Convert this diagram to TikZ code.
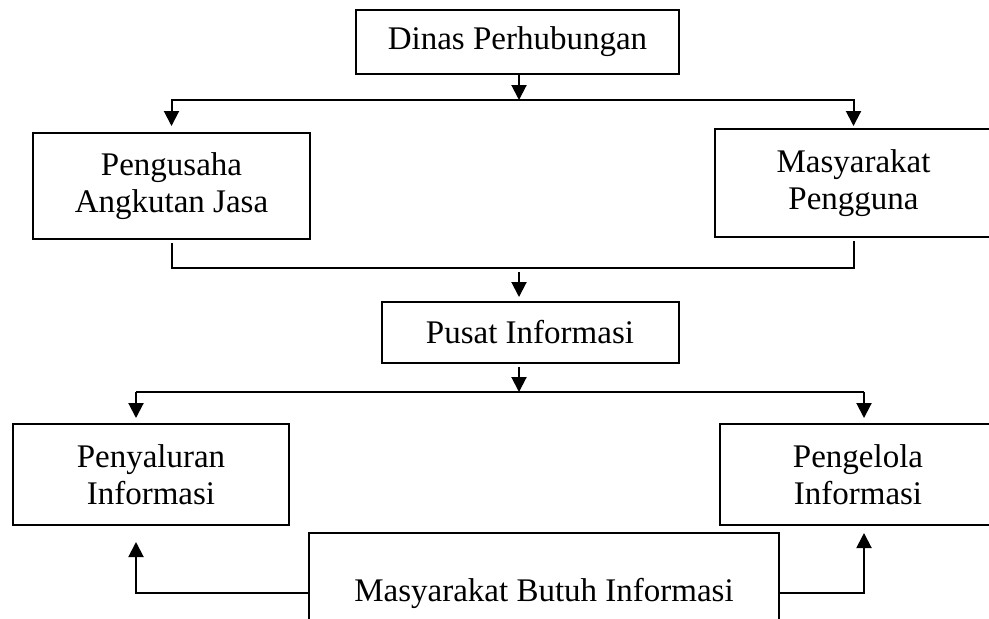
\documentclass[tikz,border=0pt]{standalone}
\usepackage{fontspec}
\setmainfont{Liberation Serif}
\usetikzlibrary{arrows.meta}

\begin{document}
\begin{tikzpicture}[
	x=0.5pt, y=-0.5pt,
	box/.style={
		rectangle,
		draw=black,
		line width=1pt,
		align=center,
		inner sep=0pt,
		font=\fontsize{16.5}{18.5}\selectfont
	},
	line/.style={
		line width=1pt
	},
	arrow/.style={
		line width=1pt,
		-{Triangle[length=7.5pt,width=7.5pt]}
	},
]

\clip (0,0) rectangle (989,618);

\node[box, minimum width=161.5pt, minimum height=32pt] (dinas) at (517.5, 42) {Dinas Perhubungan};

\node[box, minimum width=138.5pt, minimum height=53pt] (pengusaha) at (171.5, 186) {Pengusaha\\Angkutan Jasa};
\node[box, minimum width=138.5pt, minimum height=54pt] (pengguna) at (853.5, 183) {Masyarakat\\Pengguna};

\node[box, minimum width=148.5pt, minimum height=30.5pt] (pusat) at (530, 332.5) {Pusat Informasi};

\node[box, minimum width=138pt, minimum height=50.5pt] (penyaluran) at (151, 474.5) {Penyaluran\\Informasi};
\node[box, minimum width=138pt, minimum height=50.5pt] (pengelola) at (858, 474.5) {Pengelola\\Informasi};

\node[box, minimum width=235pt, minimum height=60pt] (butuh) at (544, 593) {Masyarakat Butuh Informasi};

\coordinate (split1) at (519, 100);
\coordinate (merge) at (519, 268);
\coordinate (split2) at (519, 392);
\coordinate (endL) at (136, 392);
\coordinate (endR) at (864, 392);

% dinas ke pengusaha dan masyarakat
\draw[arrow] (dinas.south -| split1) -- (split1);
\draw[line] (split1) edge[arrow, shorten >=3pt, to path={-| (\tikztotarget)}] (pengusaha);
\draw[line] (split1) edge[arrow, shorten >=1pt, to path={-| (\tikztotarget)}] (pengguna);

% gabung ke pusat informasi
\draw[line, shorten <=1.5pt, shorten >=1.5pt] (pengusaha) |- (merge) -| (pengguna);
\draw[arrow, shorten <=2pt, shorten >=2pt] (merge) -- (merge |- pusat.north);

% pusat informasi ke penyaluran dan pengelola
\draw[arrow, shorten <=1.5pt] (split2 |- pusat.south) -- (split2);
\draw[line] (endL) -- (endR);
\draw[arrow, shorten >=2.5pt] (endL) -- (endL |- penyaluran.north);
\draw[arrow, shorten >=2.5pt] (endR) -- (endR |- pengelola.north);

% masyarakat butuh informasi
\draw[arrow, shorten >=8pt] (butuh.west) -| (endL |- penyaluran.south);
\draw[arrow, shorten >=3.5pt] (butuh.east) -| (endR |- pengelola.south);

\end{tikzpicture}
\end{document}
